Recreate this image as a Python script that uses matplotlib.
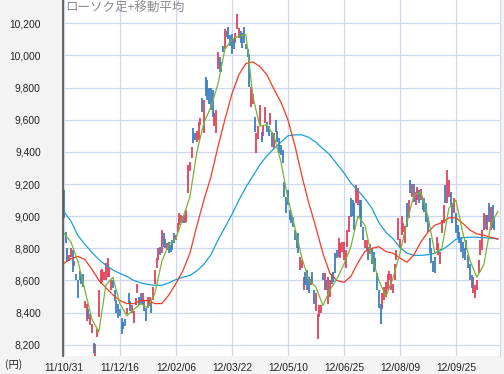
import numpy as np
import matplotlib
matplotlib.use("Agg")
import matplotlib.pyplot as plt
from matplotlib.ticker import StrMethodFormatter

# Daily candles (open / close), 2011/10/31 onwards
opens = [9160, 8900, 8805, 8720, 8745, 8790, 8690, 8640, 8600, 8660,
         8620, 8640, 8430, 8350, 8420, 8320, 8270, 8213, 8110, 8250,
         8370, 8581, 8590, 8600, 8600, 8619, 8619, 8538, 8600, 8540,
         8480, 8456, 8420, 8369, 8340, 8363, 8390, 8519, 8470, 8400,
         8338, 8450, 8519, 8500, 8519, 8456, 8470, 8431, 8431, 8440,
         8475, 8480, 8581, 8680, 8725, 8806, 8769, 8894, 8860, 8788,
         8838, 8820, 8850, 8894, 8850, 8900, 8944, 8960, 9000, 8960,
         8963, 9144, 9280, 9363, 9550, 9519, 9460, 9475, 9569, 9738,
         9519, 9869, 9850, 9800, 9800, 9788, 9560, 9519, 9913, 9988,
         9960, 10056, 10038, 10150, 10175, 10130, 10131, 10100, 10080, 10163,
         10106, 10150, 10138, 10175, 10069, 10040, 10006, 9681, 9700, 9619,
         9394, 9480, 9569, 9525, 9500, 9581, 9588, 9560, 9569, 9525,
         9425, 9600, 9530, 9488, 9440, 9413, 9213, 9119, 9163, 9038,
         9010, 8994, 8913, 8880, 8894, 8663, 8675, 8538, 8650, 8663,
         8619, 8570, 8650, 8538, 8413, 8238, 8370, 8400, 8644, 8538,
         8600, 8456, 8500, 8640, 8650, 8769, 8790, 8744, 8740, 8780,
         8725, 8675, 8806, 8900, 9113, 9100, 9081, 9081, 9069, 9100,
         9100, 8931, 8800, 8788, 8806, 8763, 8800, 8780, 8738, 8644,
         8538, 8456, 8420, 8480, 8500, 8540, 8600, 8540, 8520, 8600,
         8725, 8850, 8800, 8880, 8900, 8830, 9080, 8990, 9225, 9120,
         9200, 9070, 9100, 9160, 9100, 9110, 9113, 9081, 8994, 8863,
         8800, 8720, 8744, 8788, 8760, 8700, 8894, 8956, 9194, 9081,
         9119, 9150, 9081, 9019, 9019, 8944, 8900, 8869, 8838, 8800,
         8850, 8760, 8700, 8631, 8519, 8488, 8540, 8644, 8760, 8788,
         8913, 9006, 8913, 9081, 8913, 9069, 8994]
closes = [8990, 8830, 8715, 8760, 8805, 8650, 8720, 8600, 8490, 8600,
          8580, 8560, 8470, 8455, 8360, 8390, 8330, 8150, 8206, 8300,
          8540, 8663, 8670, 8650, 8706, 8738, 8675, 8600, 8550, 8470,
          8400, 8369, 8380, 8269, 8300, 8319, 8430, 8456, 8413, 8450,
          8413, 8490, 8581, 8450, 8456, 8519, 8410, 8350, 8494, 8500,
          8400, 8560, 8663, 8740, 8800, 8756, 8913, 8806, 8800, 8831,
          8769, 8780, 8790, 8831, 8880, 8960, 9019, 9010, 8960, 9010,
          9038, 9319, 9340, 9431, 9456, 9475, 9530, 9588, 9613, 9650,
          9725, 9750, 9725, 9700, 9663, 9619, 9640, 9663, 10019, 9894,
          9900, 10019, 10163, 10113, 10100, 10060, 10006, 10038, 10140, 10256,
          10169, 10080, 10044, 10075, 10038, 9990, 9806, 9806, 9760, 9525,
          9519, 9560, 9694, 9463, 9560, 9681, 9525, 9500, 9644, 9431,
          9519, 9525, 9460, 9394, 9380, 9331, 9119, 9019, 9069, 8975,
          8960, 8931, 8850, 8800, 8769, 8744, 8725, 8619, 8570, 8538,
          8519, 8610, 8581, 8456, 8519, 8394, 8450, 8450, 8600, 8644,
          8540, 8619, 8600, 8580, 8590, 8644, 8740, 8863, 8830, 8840,
          8838, 8788, 8913, 9000, 8994, 9000, 8913, 9194, 9175, 8994,
          8931, 8850, 8850, 8850, 8725, 8825, 8700, 8650, 8663, 8538,
          8431, 8331, 8520, 8560, 8590, 8640, 8660, 8640, 8580, 8700,
          8790, 8990, 8860, 9000, 8960, 8940, 8930, 9100, 9145, 9200,
          9090, 9150, 9180, 9080, 9170, 9040, 9025, 8963, 8900, 8769,
          8706, 8650, 8644, 8869, 8830, 8775, 8975, 9069, 9081, 9288,
          9225, 9069, 8956, 9113, 8894, 8863, 8830, 8775, 8738, 8725,
          8788, 8680, 8600, 8550, 8619, 8569, 8600, 8725, 8850, 8913,
          9019, 8919, 9006, 8963, 9056, 8925, 8913]

# Moving averages, read every 4 trading days
ma_step = 4
ma_short = [8894, 8840, 8720, 8540, 8360, 8280, 8570, 8620, 8456, 8380,
            8420, 8455, 8430, 8520, 8720, 8825, 8860, 8990, 9119, 9400,
            9580, 9680, 9820, 10038, 10100, 10120, 10130, 9744, 9560, 9569,
            9500, 9340, 9110, 8931, 8740, 8600, 8560, 8444, 8540, 8610,
            8700, 8810, 9000, 8944, 8744, 8600, 8500, 8612, 8769, 8960,
            9130, 9150, 9000, 8769, 8800, 9050, 9100, 8894, 8725, 8620,
            8700, 8950, 9030]
ma_mid = [8706, 8735, 8750, 8730, 8670, 8600, 8555, 8510, 8475, 8456,
          8456, 8475, 8475, 8456, 8456, 8510, 8580, 8660, 8769, 8940,
          9100, 9244, 9430, 9600, 9760, 9880, 9950, 9960, 9931, 9880,
          9790, 9710, 9600, 9440, 9250, 9080, 8930, 8769, 8644, 8600,
          8588, 8625, 8710, 8780, 8800, 8810, 8780, 8770, 8740, 8713,
          8760, 8840, 8900, 8944, 8960, 8990, 8990, 8955, 8913, 8890,
          8881, 8869, 8856]
ma_long = [9027, 8970, 8880, 8825, 8775, 8730, 8695, 8665, 8644, 8625,
           8600, 8585, 8575, 8570, 8570, 8585, 8605, 8620, 8631, 8660,
           8700, 8760, 8850, 8930, 9010, 9100, 9180, 9250, 9320, 9375,
           9420, 9460, 9500, 9506, 9506, 9490, 9460, 9420, 9381, 9325,
           9270, 9206, 9160, 9110, 9050, 8960, 8900, 8860, 8806, 8770,
           8756, 8756, 8760, 8769, 8790, 8820, 8856, 8866, 8869, 8869,
           8866, 8863, 8860]

tick_days = [0, 32, 64, 96, 128, 160, 192, 224]
tick_labels = ['11/10/31', '11/12/16', '12/02/06', '12/03/22',
               '12/05/10', '12/06/25', '12/08/09', '12/09/25']
price_ticks = [8200, 8400, 8600, 8800, 9000, 9200, 9400, 9600, 9800, 10000, 10200]

opens = np.array(opens)
closes = np.array(closes)
days = np.arange(len(opens))
ma_days = np.arange(len(ma_short)) * ma_step

fig = plt.figure(figsize=(5.04, 3.74), dpi=100, facecolor='#f3f3f3')
ax = fig.add_axes([63 / 504, 18 / 374, 437 / 504, 356 / 374])
ax.set_facecolor('white')

grid_c = '#cdd7ee'
ax.grid(True, color=grid_c, lw=0.9)
ax.set_axisbelow(True)

up = closes >= opens
ax.vlines(days[up], opens[up], closes[up], color='#e2405a', lw=1.3)
ax.vlines(days[~up], opens[~up], closes[~up], color='#3b7fc0', lw=1.3)

ax.plot(ma_days, ma_long, color='#1b9fd6', lw=0.9)
ax.plot(ma_days, ma_mid, color='#f53b22', lw=0.9)
ax.plot(ma_days, ma_short, color='#76b434', lw=0.9)

ax.set_xlim(-0.5, 249.2)
ax.set_ylim(8130, 10345)
ax.set_xticks(tick_days)
ax.set_xticklabels(tick_labels)
ax.set_yticks(price_ticks)
ax.yaxis.set_major_formatter(StrMethodFormatter('{x:,.0f}'))
ax.tick_params(length=0, labelsize=7.4, labelcolor='#222222')
ax.tick_params(axis='y', pad=16)
ax.tick_params(axis='x', pad=5)
for lab in ax.get_xticklabels() + ax.get_yticklabels():
    lab.set_family('Liberation Sans')

for s in ['top', 'bottom']:
    ax.spines[s].set_visible(False)
ax.spines['right'].set_color(grid_c)
ax.spines['left'].set_color('#5a5a5a')
ax.spines['left'].set_linewidth(1.3)

ax.text(0.005, 0.995, 'ローソク足+移動平均', transform=ax.transAxes,
        ha='left', va='top', fontsize=9, color='#8a8a8a',
        family=['Noto Sans CJK JP', 'DejaVu Sans'])
fig.text(5 / 504, 9 / 374, '(円)', ha='left', va='center', fontsize=7.4,
         color='#222222', family=['Noto Sans CJK JP', 'DejaVu Sans'])

fig.savefig('out.png', dpi=100, facecolor=fig.get_facecolor())
